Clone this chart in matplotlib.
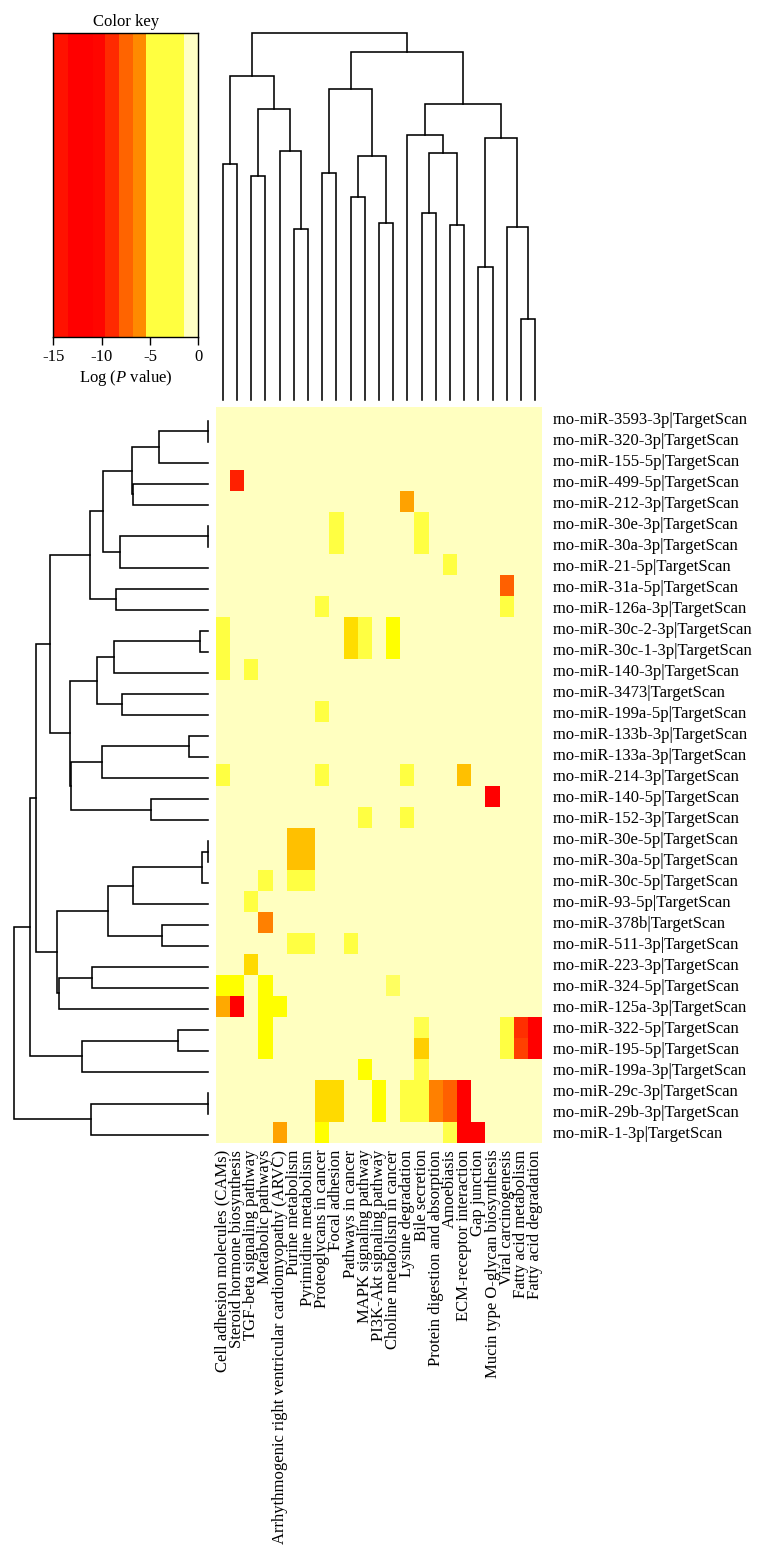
import numpy as np
import matplotlib
matplotlib.use("Agg")
import matplotlib.pyplot as plt
from matplotlib.colors import LinearSegmentedColormap, ListedColormap, BoundaryNorm

plt.rcParams['font.family'] = ['Liberation Serif', 'DejaVu Serif']
plt.rcParams['mathtext.fontset'] = 'custom'
plt.rcParams['mathtext.rm'] = 'Liberation Serif'
plt.rcParams['mathtext.it'] = 'Liberation Serif:italic'

# ---------------- data ----------------
row_labels = [
    "rno-miR-3593-3p|TargetScan", "rno-miR-320-3p|TargetScan", "rno-miR-155-5p|TargetScan",
    "rno-miR-499-5p|TargetScan", "rno-miR-212-3p|TargetScan", "rno-miR-30e-3p|TargetScan",
    "rno-miR-30a-3p|TargetScan", "rno-miR-21-5p|TargetScan", "rno-miR-31a-5p|TargetScan",
    "rno-miR-126a-3p|TargetScan", "rno-miR-30c-2-3p|TargetScan", "rno-miR-30c-1-3p|TargetScan",
    "rno-miR-140-3p|TargetScan", "rno-miR-3473|TargetScan", "rno-miR-199a-5p|TargetScan",
    "rno-miR-133b-3p|TargetScan", "rno-miR-133a-3p|TargetScan", "rno-miR-214-3p|TargetScan",
    "rno-miR-140-5p|TargetScan", "rno-miR-152-3p|TargetScan", "rno-miR-30e-5p|TargetScan",
    "rno-miR-30a-5p|TargetScan", "rno-miR-30c-5p|TargetScan", "rno-miR-93-5p|TargetScan",
    "rno-miR-378b|TargetScan", "rno-miR-511-3p|TargetScan", "rno-miR-223-3p|TargetScan",
    "rno-miR-324-5p|TargetScan", "rno-miR-125a-3p|TargetScan", "rno-miR-322-5p|TargetScan",
    "rno-miR-195-5p|TargetScan", "rno-miR-199a-3p|TargetScan", "rno-miR-29c-3p|TargetScan",
    "rno-miR-29b-3p|TargetScan", "rno-miR-1-3p|TargetScan",
]

col_labels = [
    "Cell adhesion molecules (CAMs)", "Steroid hormone biosynthesis", "TGF-beta signaling pathway",
    "Metabolic pathways", "Arrhythmogenic right ventricular cardiomyopathy (ARVC)",
    "Purine metabolism", "Pyrimidine metabolism", "Proteoglycans in cancer", "Focal adhesion",
    "Pathways in cancer", "MAPK signaling pathway", "PI3K-Akt signaling pathway",
    "Choline metabolism in cancer", "Lysine degradation", "Bile secretion",
    "Protein digestion and absorption", "Amoebiasis", "ECM-receptor interaction", "Gap junction",
    "Mucin type O-glycan biosynthesis", "Viral carcinogenesis", "Fatty acid metabolism",
    "Fatty acid degradation",
]

# significant cells: (row index, column index, log P value); all other cells ~ 0
sig_rows = [3, 4, 5, 6, 5, 6, 7, 8, 9, 9,
            10, 11, 12, 10, 11, 10, 11, 10, 11, 12,
            14, 17, 17, 17, 17, 18, 19, 19, 20, 21,
            20, 21, 22, 22, 22, 23, 24, 25, 25, 25,
            26, 27, 27, 27, 27, 28, 28, 28, 28,
            29, 29, 29, 29, 29, 30, 30, 30, 30, 30,
            31, 31,
            32, 32, 32, 32, 32, 32, 32, 32, 32,
            33, 33, 33, 33, 33, 33, 33, 33, 33,
            34, 34, 34, 34, 34]
sig_cols = [1, 13, 8, 8, 14, 14, 16, 20, 20, 7,
            0, 0, 0, 9, 9, 10, 10, 12, 12, 2,
            7, 0, 7, 13, 17, 19, 10, 13, 5, 5,
            6, 6, 3, 5, 6, 2, 3, 5, 6, 9,
            2, 0, 1, 3, 12, 0, 1, 3, 4,
            3, 14, 20, 21, 22, 3, 14, 20, 21, 22,
            10, 14,
            7, 8, 11, 13, 14, 15, 16, 17, 13,
            7, 8, 11, 13, 14, 15, 16, 17, 13,
            4, 7, 16, 17, 18]
sig_logp = [-10, -6, -2.5, -2.5, -2.5, -2.5, -2.5, -8, -2.5, -2.5,
            -2.5, -2.5, -2.5, -4.3, -4.3, -2.5, -2.5, -3, -3, -2.5,
            -2.5, -2.5, -2.5, -2.5, -5, -12, -2.5, -2.5, -5, -5,
            -5, -5, -2.5, -2.5, -2.5, -2.5, -7, -2.5, -2.5, -2.5,
            -4.4, -3, -3, -3, -2, -5.8, -12, -3, -3,
            -3, -2.3, -2.5, -9.5, -12, -3, -4.7, -2.5, -9, -12,
            -3, -2.3,
            -4.4, -4.4, -3, -2.5, -2.5, -7, -8, -12, -2.5,
            -4.4, -4.4, -3, -2.5, -2.5, -7, -8, -12, -2.5,
            -6, -3, -2.4, -12, -12]

# dendrograms: [left, right, merge height]; integers are leaf indices
col_tree = [[[0, 1, 235.7], [[2, 3, 224.0], [4, [5, 6, 170.7], 249.0], 291.0], 324.3],
            [[[7, 8, 227.3], [[9, 10, 203.0], [11, 12, 176.7], 244.0], 310.7],
             [[13, [[14, 15, 187.3], [16, 17, 174.7], 247.3], 265.0],
              [[18, 19, 132.7], [20, [21, 22, 81.0], 172.7], 261.7], 296.0], 347.7],
            366.7]

row_A = [[[[0, 1, 0.0], 2, 48.7], [3, 4, 74.8], 75.3], [[5, 6, 0.0], 7, 87.7], 104.3]
row_I = [row_A, [8, 9, 92.0], 117.3]
row_M = [[[10, 11, 7.7], 12, 93.3], [13, 14, 86.0], 110.3]
row_Q = [row_M, [[[15, 16, 18.3], 17, 106.0], [18, 19, 56.7], 136.7], 138.0]
row_R = [row_I, row_Q, 157.7]
row_S = [[[[20, 21, 0.0], 22, 6.0], 23, 74.3], [24, 25, 45.3], 100.0]
row_W = [row_S, [[26, 27, 115.3], 28, 148.3], 150.3]
row_tree = [[[row_R, row_W, 171.3], [[29, 30, 29.3], 31, 126.0], 178.0],
            [[32, 33, 0.0], 34, 116.7], 194.0]

# color key bands
key_bounds = [-15, -13.5, -10.9, -9.6, -8.2, -6.8, -5.45, -1.45, 0]
key_colors = ['#ff1200', '#ff0000', '#ff0500', '#ff2a00', '#ff6400', '#ff8a00', '#ffff40', '#ffffc4']
key_ticks = [-15, -10, -5, 0]

# heatmap colour scale
heat_vals = [-15, -11, -10, -9, -8, -7, -6, -5, -4.5, -4, -3, -2.5, -2, 0]
heat_cols = ['#ff0000', '#ff0000', '#ff2000', '#ff4000', '#ff6000', '#ff8000', '#ffa200',
             '#ffc000', '#ffd800', '#ffe400', '#ffff00', '#ffff40', '#ffff60', '#ffffc0']

# ---------------- figure ----------------
W, H = 766, 1559
fig = plt.figure(figsize=(W / 100, H / 100), dpi=100)


def px_axes(left, top, right, bottom):
    return fig.add_axes([left / W, 1 - bottom / H, (right - left) / W, (bottom - top) / H])


nrow, ncol = len(row_labels), len(col_labels)
mat = np.zeros((nrow, ncol))
for r, c, v in zip(sig_rows, sig_cols, sig_logp):
    mat[r, c] = v

vmin, vmax = heat_vals[0], heat_vals[-1]
pos = [(v - vmin) / (vmax - vmin) for v in heat_vals]
heat_cmap = LinearSegmentedColormap.from_list('heat', list(zip(pos, heat_cols)))

FS = 12

ax = px_axes(215.7, 407.3, 542.3, 1142.7)
ax.pcolormesh(np.arange(ncol + 1), np.arange(nrow + 1), mat, cmap=heat_cmap,
              vmin=vmin, vmax=vmax, shading='flat')
ax.set_xlim(0, ncol)
ax.set_ylim(nrow, 0)
for s in ax.spines.values():
    s.set_visible(False)
ax.yaxis.tick_right()
ax.set_yticks(np.arange(nrow) + 0.5)
ax.set_yticklabels(row_labels, fontsize=FS)
ax.set_xticks(np.arange(ncol) + 0.5)
ax.set_xticklabels(col_labels, rotation=90, fontsize=FS)
ax.tick_params(axis='y', length=0, pad=7.5)
ax.tick_params(axis='x', length=0, pad=5)


def draw_tree(axd, node, orient):
    if isinstance(node, int):
        return node + 0.5, 0.0
    left, right, h = node
    pl, hl = draw_tree(axd, left, orient)
    pr, hr = draw_tree(axd, right, orient)
    if orient == 'top':
        axd.plot([pl, pl, pr, pr], [hl, h, h, hr], color='black', lw=1.15,
                 solid_joinstyle='miter', clip_on=False)
    else:
        axd.plot([hl, h, h, hr], [pl, pl, pr, pr], color='black', lw=1.15,
                 solid_joinstyle='miter', clip_on=False)
    return (pl + pr) / 2, h


axc = px_axes(215.7, 33.3, 542.3, 400.0)
draw_tree(axc, col_tree, 'top')
axc.set_xlim(0, ncol)
axc.set_ylim(0, col_tree[2])
axc.axis('off')

axr = px_axes(13.7, 410.3, 207.7, 1145.7)
draw_tree(axr, row_tree, 'left')
axr.set_xlim(row_tree[2], 0)
axr.set_ylim(nrow, 0)
axr.axis('off')

# color key
axk = px_axes(53.3, 33.3, 198.3, 336.7)
key_cmap = ListedColormap(key_colors)
key_norm = BoundaryNorm(key_bounds, key_cmap.N)
kx = np.array(key_bounds, dtype=float)
centers = (kx[:-1] + kx[1:]) / 2
axk.pcolormesh(kx, [0, 1], centers[None, :], cmap=key_cmap, norm=key_norm, shading='flat')
axk.set_xlim(key_bounds[0], key_bounds[-1])
axk.set_ylim(0, 1)
axk.set_yticks([])
axk.set_xticks(key_ticks)
axk.set_xticklabels(['-15', '-10', '-5', '0'], fontsize=FS)
axk.tick_params(axis='x', length=6, width=1, pad=3)
for s in axk.spines.values():
    s.set_linewidth(1.0)
axk.set_title('Color key', fontsize=FS, pad=5)
axk.set_xlabel('Log ($\\mathit{P}$ value)', fontsize=FS, labelpad=2)

fig.savefig('out.png', dpi=100)
